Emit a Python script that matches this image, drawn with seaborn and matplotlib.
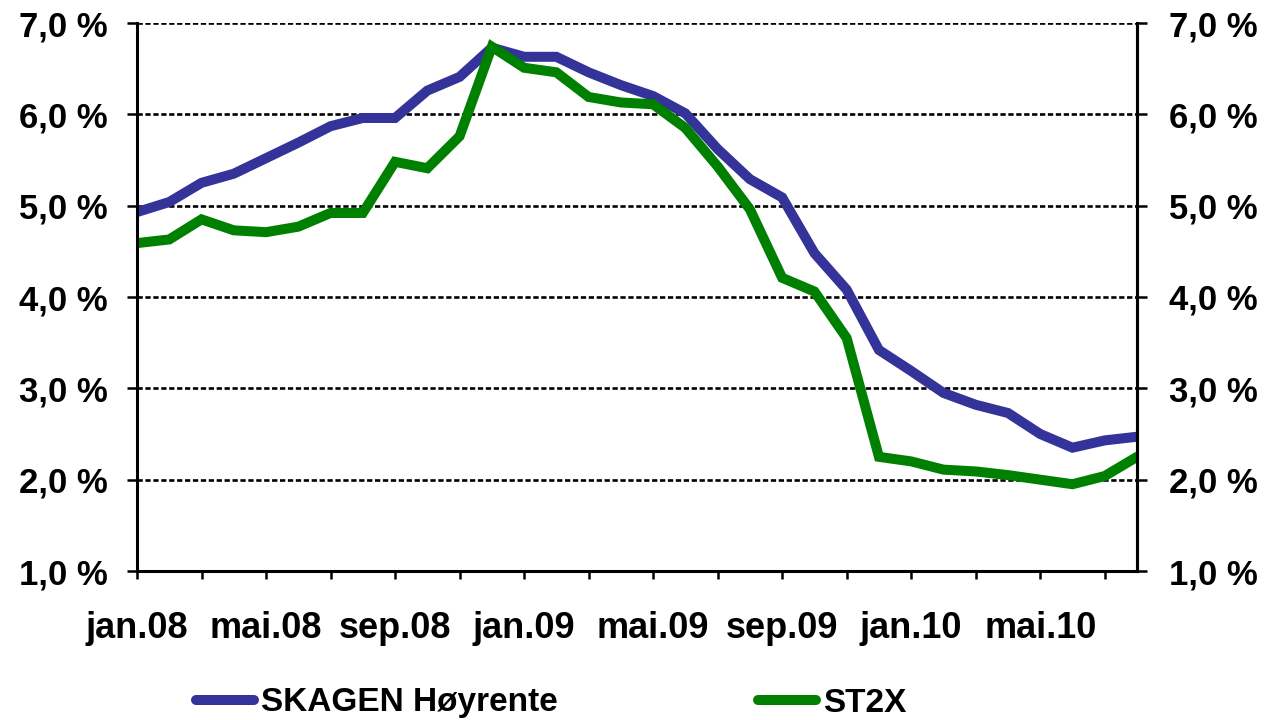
import matplotlib
matplotlib.use("Agg")
import matplotlib.pyplot as plt
import seaborn as sns
import pandas as pd
from matplotlib.ticker import FixedLocator, FuncFormatter
from matplotlib.lines import Line2D

months = ["jan.08", "feb.08", "mar.08", "apr.08", "mai.08", "jun.08", "jul.08", "aug.08",
          "sep.08", "okt.08", "nov.08", "des.08", "jan.09", "feb.09", "mar.09", "apr.09",
          "mai.09", "jun.09", "jul.09", "aug.09", "sep.09", "okt.09", "nov.09", "des.09",
          "jan.10", "feb.10", "mar.10", "apr.10", "mai.10", "jun.10", "jul.10", "aug.10"]

skagen = [4.93, 5.04, 5.25, 5.35, 5.52, 5.69, 5.87, 5.96, 5.96, 6.26, 6.41, 6.73,
          6.63, 6.63, 6.46, 6.32, 6.20, 6.01, 5.62, 5.29, 5.09, 4.48, 4.08, 3.42,
          3.19, 2.95, 2.82, 2.73, 2.50, 2.35, 2.43, 2.47]

st2x = [4.59, 4.63, 4.85, 4.73, 4.71, 4.77, 4.92, 4.92, 5.48, 5.41, 5.76, 6.74,
        6.51, 6.46, 6.19, 6.13, 6.11, 5.85, 5.43, 4.96, 4.21, 4.06, 3.55, 2.25,
        2.20, 2.11, 2.09, 2.05, 2.00, 1.95, 2.04, 2.25]

series_names = ["SKAGEN Høyrente", "ST2X"]
colors = ["#333399", "#008000"]
y_ticks = [1.0, 2.0, 3.0, 4.0, 5.0, 6.0, 7.0]

sns.set_theme(style="white")
plt.rcParams["font.family"] = ["Liberation Sans", "DejaVu Sans"]
plt.rcParams["font.weight"] = "bold"
plt.rcParams["text.color"] = "black"
plt.rcParams["xtick.color"] = "black"
plt.rcParams["ytick.color"] = "black"

df = pd.DataFrame({
    "idx": list(range(len(months))) * 2,
    "value": skagen + st2x,
    "series": [series_names[0]] * len(months) + [series_names[1]] * len(months),
})

fig = plt.figure(figsize=(12.66, 7.2), dpi=100)
ax = fig.add_axes([137 / 1266, 1 - 571 / 720, 1000 / 1266, 548 / 720])

sns.lineplot(data=df, x="idx", y="value", hue="series", palette=colors,
             linewidth=7.2, ax=ax, legend=False, solid_joinstyle="miter")

ax.set_xlim(0, len(months) - 1)
ax.set_ylim(1.0, 7.0)

fmt = FuncFormatter(lambda v, p: f"{v:.1f}".replace(".", ",") + " %")
ax.yaxis.set_major_locator(FixedLocator(y_ticks))
ax.yaxis.set_major_formatter(fmt)

ax.set_xticks(list(range(0, len(months), 2)))
ax.set_xticklabels([months[i] if i % 4 == 0 else "" for i in range(0, len(months), 2)])
ax.set_xlabel("")
ax.set_ylabel("")

for y in y_ticks[1:]:
    ax.axhline(y, color="black", linewidth=1.9, linestyle=(0, (2.0, 1.0)), zorder=0.5)

for side in ["left", "bottom", "right"]:
    ax.spines[side].set_visible(True)
    ax.spines[side].set_color("black")
    ax.spines[side].set_linewidth(2.2)
ax.spines["top"].set_visible(False)

ax.tick_params(axis="y", direction="out", length=7, width=1.8, color="black",
               labelcolor="black", labelsize=25, pad=14, left=True)
ax.tick_params(axis="x", direction="out", length=6, width=1.8, color="black",
               labelcolor="black", labelsize=26, pad=23, bottom=True)
for lab in ax.get_xticklabels() + ax.get_yticklabels():
    lab.set_fontweight("bold")

ax2 = ax.twinx()
ax2.set_ylim(1.0, 7.0)
ax2.yaxis.set_major_locator(FixedLocator(y_ticks))
ax2.yaxis.set_major_formatter(fmt)
ax2.tick_params(axis="y", direction="out", length=7, width=1.8, color="black",
                labelcolor="black", labelsize=25, pad=16, right=True)
for side in ["left", "bottom", "top"]:
    ax2.spines[side].set_visible(False)
ax2.spines["right"].set_color("black")
ax2.spines["right"].set_linewidth(2.2)
for lab in ax2.get_yticklabels():
    lab.set_fontweight("bold")
ax2.grid(False)
ax.grid(False)

handles = [Line2D([0], [0], color=c, linewidth=7.2, solid_capstyle="round") for c in colors]
leg = fig.legend(handles, series_names, loc="center", bbox_to_anchor=(551 / 1266, 1 - 703 / 720),
                 ncol=2, frameon=False, prop={"size": 24, "weight": "bold"},
                 handlelength=1.75, handletextpad=0.2, columnspacing=6.0)
for t in leg.get_texts():
    t.set_color("black")

fig.savefig("out.png", dpi=100)
